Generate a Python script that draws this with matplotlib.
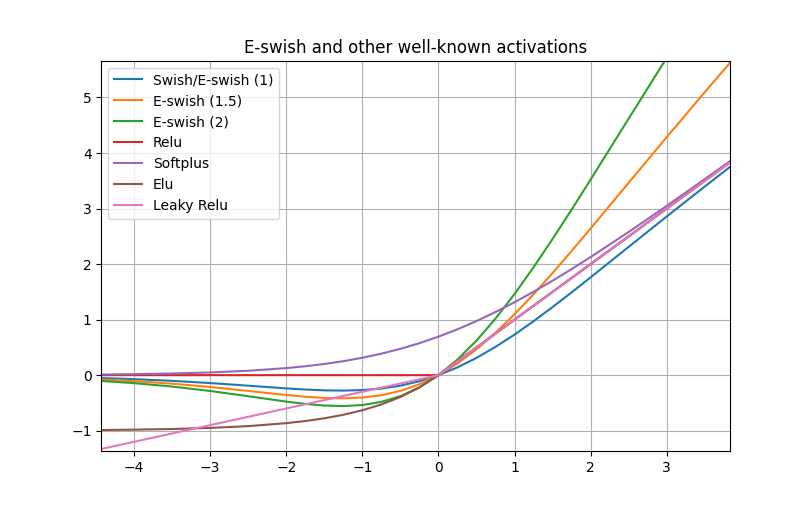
import matplotlib
matplotlib.use('Agg')
import matplotlib.pyplot as plt

x = [-4.43, -4.0, -3.5, -3.0, -2.5, -2.0, -1.75, -1.5, -1.25, -1.0, -0.75, -0.5, -0.25,
     0.0, 0.25, 0.5, 0.75, 1.0, 1.25, 1.5, 1.75, 2.0, 2.5, 3.0, 3.5, 3.83]

swish = [-0.0522, -0.0719, -0.1026, -0.1423, -0.1897, -0.2384, -0.2591, -0.2736, -0.2784,
         -0.2689, -0.2406, -0.1888, -0.1095, 0.0, 0.1405, 0.3112, 0.5094, 0.7311, 0.9716,
         1.2264, 1.4909, 1.7616, 2.3104, 2.8577, 3.3974, 3.7486]
eswish_15 = [-0.0782, -0.1079, -0.1539, -0.2134, -0.2845, -0.3576, -0.3886, -0.4105, -0.4176,
             -0.4034, -0.3609, -0.2832, -0.1642, 0.0, 0.2108, 0.4668, 0.7641, 1.0966, 1.4575,
             1.8395, 2.2364, 2.6424, 3.4655, 4.2866, 5.0961, 5.6229]
eswish_2 = [-0.1043, -0.1439, -0.2052, -0.2846, -0.3793, -0.4768, -0.5182, -0.5473, -0.5568,
            -0.5379, -0.4812, -0.3775, -0.2189, 0.0, 0.2811, 0.6225, 1.0188, 1.4621, 1.9433,
            2.4527, 2.9818, 3.5232, 4.6207, 5.7154, 6.7948, 7.4972]
relu = [0.0, 0.0, 0.0, 0.0, 0.0, 0.0, 0.0, 0.0, 0.0, 0.0, 0.0, 0.0, 0.0,
        0.0, 0.25, 0.5, 0.75, 1.0, 1.25, 1.5, 1.75, 2.0, 2.5, 3.0, 3.5, 3.83]
softplus = [0.0118, 0.0181, 0.0298, 0.0486, 0.0789, 0.1269, 0.1602, 0.2014, 0.2519,
            0.3133, 0.3869, 0.4741, 0.5759, 0.6931, 0.8259, 0.9741, 1.1369, 1.3133, 1.5019,
            1.7014, 1.9102, 2.1269, 2.5789, 3.0486, 3.5298, 3.8515]
elu = [-0.9881, -0.9817, -0.9698, -0.9502, -0.9179, -0.8647, -0.8262, -0.7769, -0.7135,
       -0.6321, -0.5276, -0.3935, -0.2212, 0.0, 0.25, 0.5, 0.75, 1.0, 1.25, 1.5, 1.75,
       2.0, 2.5, 3.0, 3.5, 3.83]
leaky_relu = [-1.329, -1.2, -1.05, -0.9, -0.75, -0.6, -0.525, -0.45, -0.375, -0.3, -0.225,
              -0.15, -0.075, 0.0, 0.25, 0.5, 0.75, 1.0, 1.25, 1.5, 1.75, 2.0, 2.5, 3.0,
              3.5, 3.83]

plt.figure(figsize=(8.11, 5.07), dpi=100)
plt.plot(x, swish, label='Swish/E-swish (1)')
plt.plot(x, eswish_15, label='E-swish (1.5)')
plt.plot(x, eswish_2, label='E-swish (2)')
plt.plot(x, relu, label='Relu')
plt.plot(x, softplus, label='Softplus')
plt.plot(x, elu, label='Elu')
plt.plot(x, leaky_relu, label='Leaky Relu')
plt.xlim(-4.43, 3.83)
plt.ylim(-1.37, 5.66)
plt.grid(True)
plt.legend(loc='upper left')
plt.title('E-swish and other well-known activations')
plt.savefig('out.png', dpi=100)
